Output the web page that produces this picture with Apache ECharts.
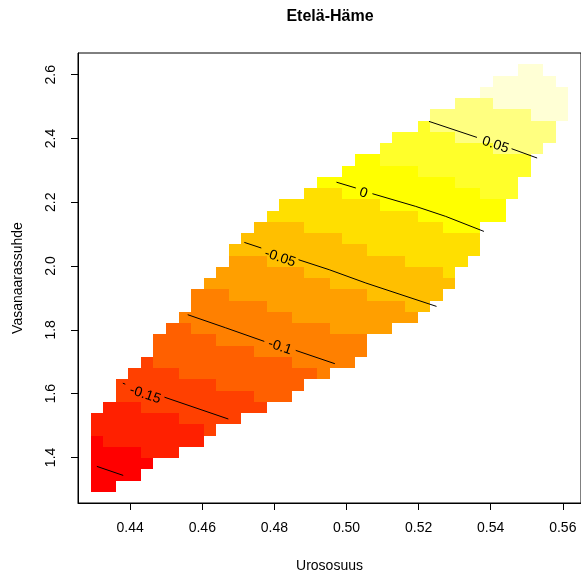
<!DOCTYPE html>
<html><head><meta charset="utf-8">
<script src="https://cdn.jsdelivr.net/npm/echarts@6/dist/echarts.min.js"></script>
<style>html,body{margin:0;padding:0;background:#fff}#c{width:581px;height:579px}</style>
</head><body><div id="c"></div>
<script>
// heat.colors(12)
const heatColors = ["#FF0000","#FF2000","#FF4000","#FF6000","#FF8000","#FF9F00","#FFBF00","#FFDF00","#FFFF00","#FFFF2A","#FFFF80","#FFFFD5"];
// grid cell centres
const xCenters = [0.42726,0.43075,0.43424,0.43773,0.44121,0.44470,0.44819,0.45168,0.45517,0.45866,0.46214,0.46563,0.46912,0.47261,0.47610,0.47959,0.48307,0.48656,0.49005,0.49354,0.49703,0.50052,0.50400,0.50749,0.51098,0.51447,0.51796,0.52145,0.52494,0.52842,0.53191,0.53540,0.53889,0.54238,0.54587,0.54935,0.55284,0.55633,0.55982,0.56331];
const yCenters = [1.27465,1.30993,1.34520,1.38048,1.41576,1.45103,1.48631,1.52159,1.55686,1.59214,1.62742,1.66270,1.69797,1.73325,1.76853,1.80380,1.83908,1.87436,1.90963,1.94491,1.98019,2.01547,2.05074,2.08602,2.12130,2.15657,2.19185,2.22713,2.26240,2.29768,2.33296,2.36824,2.40351,2.43879,2.47407,2.50934,2.54462,2.57990,2.61517,2.65045];
// rows 1..38 : first filled column and runs [colourLevel, count, ...]
const rowStart = [1,1,1,1,1,1,1,2,3,3,4,5,6,6,7,8,9,9,10,11,12,12,13,14,15,16,18,19,21,22,24,25,27,28,30,32,33,35];
const rowRuns = [
 [0,2],[0,4],[0,5],[0,4,1,3],[0,1,1,8],[1,9,2,1],[1,7,2,5],[1,3,2,10],
 [2,11,3,3],[2,8,3,7],[2,4,3,11,4,1],[2,1,3,11,4,5],[3,8,4,9],[3,5,4,12],
 [3,2,4,11,5,5],[4,9,5,10],[4,6,5,11,6,2],[4,3,5,11,6,6],[5,10,6,10],
 [5,7,6,11,7,1],[5,3,6,11,7,5],[6,11,7,9],[6,8,7,11],[6,4,7,11,8,3],
 [7,12,8,7],[7,8,8,10],[7,3,8,11,9,3],[8,11,9,5],[8,6,9,9],[8,2,9,12],
 [9,9,10,4],[9,5,10,8],[9,1,10,10],[10,8,11,3],[10,3,11,6],[11,7],[11,5],[11,2]
];
// contour line pieces (gaps where labels sit)
const contourSegments = [
 [[0.52289,2.45362],[0.53618,2.40345]],
 [[0.54579,2.36801],[0.55288,2.33885]],
 [[0.49722,2.26297],[0.50259,2.24478]],
 [[0.50719,2.22691],[0.51921,2.18708],[0.52752,2.15572],[0.53812,2.10869]],
 [[0.47166,2.07419],[0.47636,2.05663]],
 [[0.48669,2.01994],[0.49520,1.98858],[0.50536,1.94688],[0.51458,1.91238],[0.52497,1.87350]],
 [[0.45595,1.84748],[0.46639,1.80671],[0.47719,1.76375]],
 [[0.48592,1.73553],[0.49677,1.69382]],
 [[0.43795,1.63268],[0.43864,1.62954]],
 [[0.44950,1.58878],[0.46722,1.52041]],
 [[0.43075,1.37178],[0.43806,1.34356]]
];
const labelText = ["0.05","0","-0.05","-0.1","-0.15"];
const labelX = [0.54131,0.50467,0.48157,0.48154,0.44415];
const labelY = [2.37962,2.22910,2.02527,1.74619,1.59661];
const xTicks = [0.44,0.46,0.48,0.50,0.52,0.54,0.56];
const yTicks = [1.4,1.6,1.8,2.0,2.2,2.4,2.6];

const xMin = 0.425516, xMax = 0.565052, yMin = 1.25701, yMax = 2.66811;
const halfW = (xCenters[39] - xCenters[0]) / 78;
const halfH = (yCenters[39] - yCenters[0]) / 78;
const FONT = '"Liberation Sans", Arial, sans-serif';

const cells = [];
rowRuns.forEach((runs, i) => {
  const r = i + 1;
  let c = rowStart[i];
  for (let k = 0; k < runs.length; k += 2) {
    for (let n = 0; n < runs[k + 1]; n++) {
      cells.push([xCenters[c], yCenters[r], runs[k]]);
      c++;
    }
  }
});

const series = [{
  type: 'custom', coordinateSystem: 'cartesian2d', silent: true, z: 1,
  data: cells,
  renderItem: (params, api) => {
    const x = api.value(0), y = api.value(1), lv = api.value(2);
    const p0 = api.coord([x - halfW, y + halfH]);
    const p1 = api.coord([x + halfW, y - halfH]);
    const x0 = Math.round(p0[0]), y0 = Math.round(p0[1]);
    const x1 = Math.round(p1[0]), y1 = Math.round(p1[1]);
    return { type: 'rect', shape: { x: x0, y: y0, width: x1 - x0, height: y1 - y0 }, style: { fill: heatColors[lv] } };
  }
}];
contourSegments.forEach(seg => series.push({
  type: 'line', data: seg, symbol: 'none', silent: true, z: 5,
  lineStyle: { color: '#000', width: 1 }
}));
series.push({
  type: 'custom', coordinateSystem: 'cartesian2d', silent: true, z: 6,
  data: labelX.map((x, i) => [x, labelY[i], i]),
  renderItem: (params, api) => {
    const p = api.coord([api.value(0), api.value(1)]);
    return { type: 'text', x: p[0], y: p[1], rotation: -18.5 * Math.PI / 180,
      style: { text: labelText[api.value(2)], x: 0, y: 0, align: 'center', verticalAlign: 'middle',
        font: '14px ' + FONT, fill: '#000' } };
  }
});

const chart = echarts.init(document.getElementById('c'));
chart.setOption({
  animation: false,
  backgroundColor: '#fff',
  title: { text: 'Etelä-Häme', left: 330, top: 9, textAlign: 'center', padding: 0,
    textStyle: { fontFamily: FONT, fontWeight: 'bold', fontSize: 16, color: '#000' } },
  grid: { left: 78, top: 53, width: 504, height: 450, show: true, borderColor: '#000', borderWidth: 1, backgroundColor: 'transparent' },
  xAxis: {
    type: 'value', min: xMin, max: xMax,
    name: 'Urososuus', nameLocation: 'middle', nameGap: 56,
    nameTextStyle: { fontFamily: FONT, fontSize: 14, color: '#000' },
    axisLine: { show: true, onZero: false, lineStyle: { color: '#000', width: 1 } },
    axisTick: { show: true, length: 7, customValues: xTicks, lineStyle: { color: '#000' } },
    axisLabel: { customValues: xTicks, formatter: v => v.toFixed(2), margin: 18, fontFamily: FONT, fontSize: 14, color: '#000' },
    splitLine: { show: false }
  },
  yAxis: {
    type: 'value', min: yMin, max: yMax,
    name: 'Vasanaarassuhde', nameLocation: 'middle', nameGap: 53, nameRotate: 90,
    nameTextStyle: { fontFamily: FONT, fontSize: 14, color: '#000' },
    axisLine: { show: true, onZero: false, lineStyle: { color: '#000', width: 1 } },
    axisTick: { show: true, length: 7, customValues: yTicks, lineStyle: { color: '#000' } },
    axisLabel: { customValues: yTicks, rotate: 90, formatter: v => v.toFixed(1), margin: 20, fontFamily: FONT, fontSize: 14, color: '#000' },
    splitLine: { show: false }
  },
  series: series
});
</script></body></html>
